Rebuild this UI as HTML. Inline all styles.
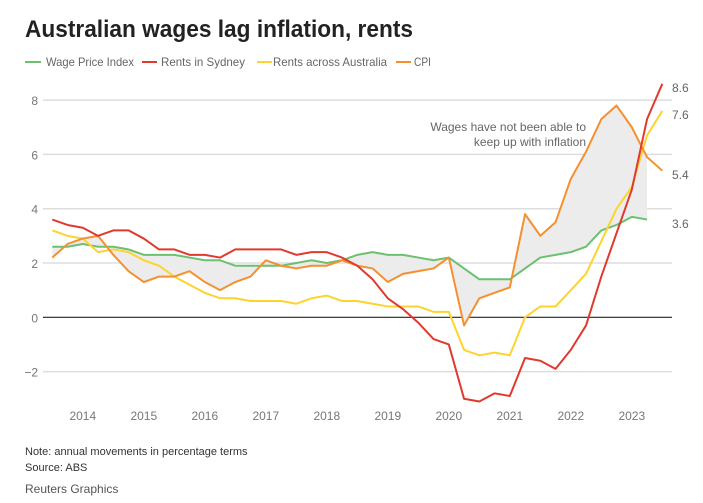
<!DOCTYPE html>
<html><head><meta charset="utf-8"><style>
body{margin:0;background:#fff;}
svg{display:block;font-family:"Liberation Sans",sans-serif;}
</style></head><body>
<svg id="chart" width="703" height="503" viewBox="0 0 703 503" xmlns="http://www.w3.org/2000/svg">
<text x="25" y="37" font-size="24" font-weight="bold" fill="#222" textLength="388" lengthAdjust="spacingAndGlyphs">Australian wages lag inflation, rents</text>
<g font-size="12" fill="#666">
<g><line x1="25" y1="62" x2="41" y2="62" stroke="#6cc070" stroke-width="2"/><text x="46" y="66" textLength="88" lengthAdjust="spacingAndGlyphs">Wage Price Index</text></g>
<g><line x1="142" y1="62" x2="157" y2="62" stroke="#e03a2f" stroke-width="2"/><text x="161" y="66" textLength="84" lengthAdjust="spacingAndGlyphs">Rents in Sydney</text></g>
<g><line x1="257" y1="62" x2="272" y2="62" stroke="#fdd32f" stroke-width="2"/><text x="273" y="66" textLength="114" lengthAdjust="spacingAndGlyphs">Rents across Australia</text></g>
<g><line x1="396" y1="62" x2="411" y2="62" stroke="#f5902f" stroke-width="2"/><text x="414" y="66" textLength="17" lengthAdjust="spacingAndGlyphs">CPI</text></g>
</g>
<g id="grid"></g>
<g id="plot"></g>
<text x="586" y="131" font-size="12" fill="#666" text-anchor="end">Wages have not been able to</text>
<text x="586" y="146" font-size="12" fill="#666" text-anchor="end">keep up with inflation</text>
<g font-size="12" fill="#666">
<text x="672" y="92">8.6</text><text x="672" y="119">7.6</text><text x="672" y="179">5.4</text><text x="672" y="228">3.6</text>
</g>
<text x="25" y="455" font-size="11" fill="#333">Note: annual movements in percentage terms</text>
<text x="25" y="471" font-size="11" fill="#333">Source: ABS</text>
<text x="25" y="493" font-size="12" fill="#555">Reuters Graphics</text>
</svg>
<script>
const yTicks=[8,6,4,2,0,-2];
const years=["2014","2015","2016","2017","2018","2019","2020","2021","2022","2023"];
const wage=[2.6,2.6,2.7,2.6,2.6,2.5,2.3,2.3,2.3,2.2,2.1,2.1,1.9,1.9,1.9,1.9,2.0,2.1,2.0,2.1,2.3,2.4,2.3,2.3,2.2,2.1,2.2,1.8,1.4,1.4,1.4,1.8,2.2,2.3,2.4,2.6,3.2,3.4,3.7,3.6];
const sydney=[3.6,3.4,3.3,3.0,3.2,3.2,2.9,2.5,2.5,2.3,2.3,2.2,2.5,2.5,2.5,2.5,2.3,2.4,2.4,2.2,1.9,1.4,0.7,0.3,-0.2,-0.8,-1.0,-3.0,-3.1,-2.8,-2.9,-1.5,-1.6,-1.9,-1.2,-0.3,1.5,3.1,4.7,7.3,8.6];
const australia=[3.2,3.0,2.9,2.4,2.5,2.4,2.1,1.9,1.5,1.2,0.9,0.7,0.7,0.6,0.6,0.6,0.5,0.7,0.8,0.6,0.6,0.5,0.4,0.4,0.4,0.2,0.2,-1.2,-1.4,-1.3,-1.4,0.0,0.4,0.4,1.0,1.6,2.8,4.0,4.8,6.7,7.6];
const cpi=[2.2,2.7,2.9,3.0,2.3,1.7,1.3,1.5,1.5,1.7,1.3,1.0,1.3,1.5,2.1,1.9,1.8,1.9,1.9,2.1,1.9,1.8,1.3,1.6,1.7,1.8,2.2,-0.3,0.7,0.9,1.1,3.8,3.0,3.5,5.1,6.1,7.3,7.8,7.0,5.9,5.4];
const NS="http://www.w3.org/2000/svg";
const x=i=>52.3+15.25*i;
const y=v=>317.3-27.15*v;
const grid=document.getElementById('grid'),plot=document.getElementById('plot');
function mk(tag,attrs,parent){const e=document.createElementNS(NS,tag);for(const k in attrs)e.setAttribute(k,attrs[k]);parent.appendChild(e);return e;}
yTicks.forEach(t=>{
 const l=mk('line',{x1:43,x2:672,y1:y(t),y2:y(t),stroke:t===0?'#222':'#ddd','stroke-width':t===0?1.2:1.5},grid);
 
 
 const tx=mk('text',{x:38,y:y(t)+5,'font-size':12,fill:'#777','text-anchor':'end'},grid);
 tx.textContent=t<0?'\u2212'+(-t):String(t);
 
 
});
years.forEach((yr,k)=>{
 const tx=mk('text',{x:x(2+4*k),y:420,'font-size':12,fill:'#777','text-anchor':'middle'},grid);
 tx.textContent=yr;
 
 
});
let pts=wage.map((v,i)=>x(i)+','+y(v));
for(let i=wage.length-1;i>=0;i--)pts.push(x(i)+','+y(cpi[i]));
const area=mk('polygon',{points:pts.join(' '),fill:'#ececec'},plot);


[[wage,'#6cc070','wage-line'],[australia,'#fdd32f','australia-rents-line'],[cpi,'#f5902f','cpi-line'],[sydney,'#e03a2f','sydney-rents-line']].forEach(([d,c,n])=>{
 const p=mk('polyline',{points:d.map((v,i)=>x(i)+','+y(v)).join(' '),fill:'none',stroke:c,'stroke-width':2,'stroke-linejoin':'round'},plot);
 
 
});
</script>
</body></html>
